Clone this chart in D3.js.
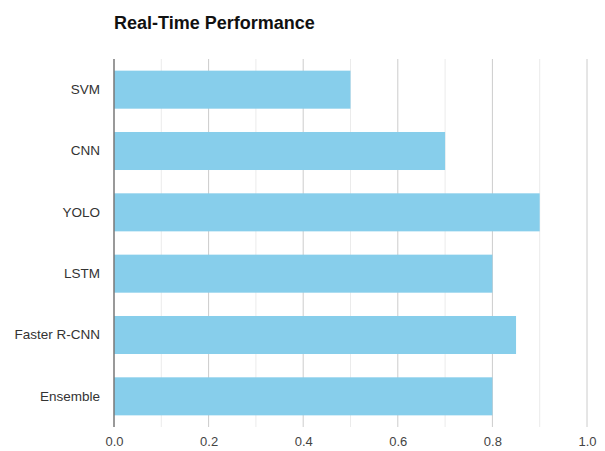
<!DOCTYPE html>
<html>
<head>
<meta charset="utf-8">
<script src="https://cdn.jsdelivr.net/npm/d3@7"></script>
<style>
  html, body { margin: 0; padding: 0; background: #fff; }
  svg { display: block; font-family: "Liberation Sans", Arial, Helvetica, sans-serif; }
</style>
</head>
<body>
<svg id="chart" width="605" height="451"></svg>
<script>
// Model names and their real-time performance scores
const models = ["SVM", "CNN", "YOLO", "LSTM", "Faster R-CNN", "Ensemble"];
const scores = [0.5, 0.7, 0.9, 0.8, 0.85, 0.8];
const majorTicks = [0, 0.2, 0.4, 0.6, 0.8, 1.0];
const minorTicks = [0.1, 0.3, 0.5, 0.7, 0.9];

const svg = d3.select("#chart");
const margin = { top: 59, right: 18, bottom: 24, left: 114 };

const x = d3.scaleLinear().domain([0, 1]).range([margin.left, 587]);
const y = d3.scaleBand().domain(models).range([margin.top, 427]).paddingInner(0.38).paddingOuter(0.19);

// Title
svg.append("text")
  .attr("x", margin.left)
  .attr("y", 29)
  .attr("font-size", 18)
  .attr("font-weight", "bold")
  .attr("fill", "#111")
  .text("Real-Time Performance");

// Gridlines
svg.append("g").selectAll("line").data(minorTicks).join("line")
  .attr("x1", d => x(d)).attr("x2", d => x(d))
  .attr("y1", margin.top).attr("y2", 427)
  .attr("stroke", "#ebebeb").attr("stroke-width", 1);
svg.append("g").selectAll("line").data(majorTicks.slice(1)).join("line")
  .attr("x1", d => x(d)).attr("x2", d => x(d))
  .attr("y1", margin.top).attr("y2", 427)
  .attr("stroke", "#cccccc").attr("stroke-width", 1);

// Bars
svg.append("g").selectAll("rect").data(models).join("rect")
  .attr("x", x(0))
  .attr("y", d => y(d))
  .attr("width", (d, i) => x(scores[i]) - x(0))
  .attr("height", y.bandwidth())
  .attr("fill", "#87ceeb");

// Baseline
svg.append("line")
  .attr("x1", x(0)).attr("x2", x(0))
  .attr("y1", margin.top).attr("y2", 427)
  .attr("stroke", "#777").attr("stroke-width", 1.5);

// X axis labels
const xAxis = d3.axisBottom(x).tickValues(majorTicks).tickFormat(d3.format(".1f")).tickSize(0).tickPadding(10);
const gx = svg.append("g").attr("transform", "translate(0,427)").call(xAxis);
gx.select(".domain").remove();
gx.selectAll("text").attr("font-size", 13).attr("fill", "#444").attr("font-family", "Liberation Sans, Arial, sans-serif");

// Y axis labels
const yAxis = d3.axisLeft(y).tickSize(0).tickPadding(14);
const gy = svg.append("g").attr("transform", `translate(${margin.left},0)`).call(yAxis);
gy.select(".domain").remove();
gy.selectAll("text").attr("font-size", 13.5).attr("fill", "#333").attr("font-family", "Liberation Sans, Arial, sans-serif");
</script>
</body>
</html>
